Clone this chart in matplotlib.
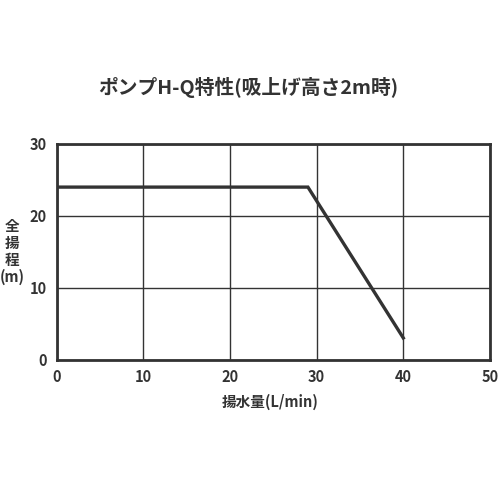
import matplotlib.pyplot as plt

plt.rcParams['font.family'] = ['Noto Sans CJK JP', 'DejaVu Sans']

# pump H-Q curve
flow = [0, 29, 40]
head = [24, 24, 3]
x_ticks = [0, 10, 20, 30, 40, 50]
y_ticks = [0, 10, 20, 30]

dark = '#333333'

fig = plt.figure(figsize=(5, 5), dpi=100)
ax = fig.add_axes([0.113, 0.281, 0.867, 0.431])

ax.plot(flow, head, color=dark, linewidth=2.4, solid_joinstyle='miter')

ax.set_xlim(0, 50)
ax.set_ylim(0, 30)
ax.set_xticks(x_ticks)
ax.set_yticks(y_ticks)
ax.grid(True, color=dark, linewidth=1)
ax.tick_params(length=0, labelsize=10.5, colors=dark, pad=7)
for lab in ax.get_xticklabels() + ax.get_yticklabels():
    lab.set_fontweight('bold')
for s in ax.spines.values():
    s.set_color(dark)
    s.set_linewidth(2)

fig.text(0.497, 0.826, 'ポンプH-Q特性(吸上げ高さ2m時)', ha='center', va='center',
         fontsize=14.2, fontweight='bold', color=dark)
fig.text(0.541, 0.196, '揚水量(L/min)', ha='center', va='center',
         fontsize=10.5, fontweight='bold', color=dark)
fig.text(0.024, 0.497, '全\n揚\n程\n(m)', ha='center', va='center',
         fontsize=10.5, fontweight='bold', color=dark, linespacing=1.05)

fig.savefig('out.png', dpi=100, facecolor='white')
